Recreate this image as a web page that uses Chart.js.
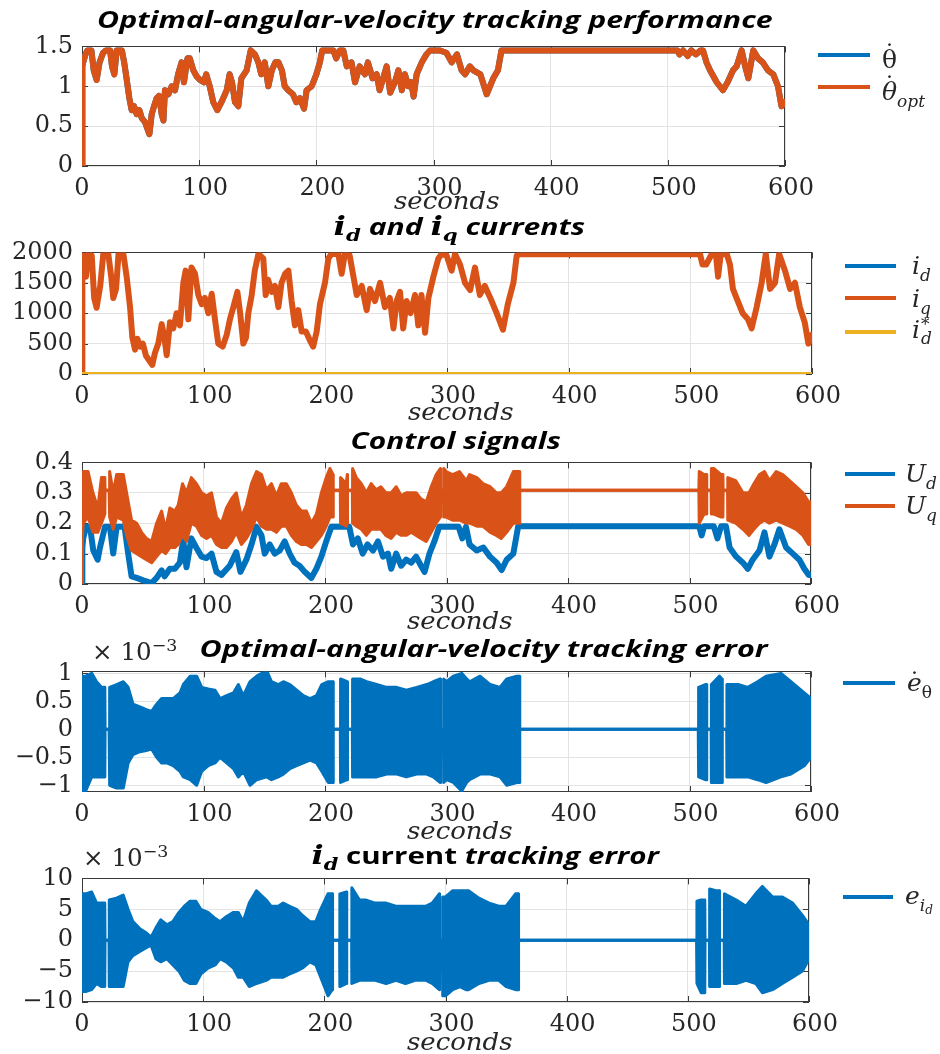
<!DOCTYPE html>
<html><head><meta charset="utf-8">
<script src="https://cdn.jsdelivr.net/npm/chart.js@4.4.1/dist/chart.umd.min.js"></script>
<style>
html,body{margin:0;padding:0;background:#fff;}
body{width:940px;height:1054px;position:relative;overflow:hidden;}
canvas{position:absolute;left:0;}
.t{position:absolute;white-space:nowrap;line-height:1;color:#000;}
.title{font-family:'Open Sans';font-weight:700;font-style:italic;font-size:24px;}
.title .mi{font-family:'DejaVu Serif';font-weight:700;font-style:italic;font-size:26px;}
.title .ms{font-family:'DejaVu Serif';font-weight:700;font-style:italic;font-size:17px;vertical-align:-6px;}
.sec{font-family:'DejaVu Serif';font-style:italic;font-size:24px;color:#262626;}
.leg{font-family:'DejaVu Serif';font-size:25px;color:#262626;}
.leg sub{font-size:17px;vertical-align:-7px;}
.leg sub sub{font-size:12px;vertical-align:-3px;}
.exp{font-family:'DejaVu Serif';font-size:24px;color:#262626;}
.exp sup{font-size:17px;vertical-align:9px;}
.acc{position:relative;display:inline-block;}
.acc .dt{position:absolute;left:0;right:0;text-align:center;font-style:normal;}
.sw{position:absolute;height:4px;}
</style></head><body>
<script>
// ---------------- data ----------------
const xTicks = [0, 100, 200, 300, 400, 500, 600];
const p1YTicks = [0, 0.5, 1, 1.5];
const p2YTicks = [0, 500, 1000, 1500, 2000];
const p3YTicks = [0, 0.1, 0.2, 0.3, 0.4];
const p4YTicks = [-1, -0.5, 0, 0.5, 1];
const p5YTicks = [-10, -5, 0, 5, 10];

// optimal angular velocity [t, value]; the actual angular velocity coincides with it
const thetaOpt = [[0,0],[0.3,1.25],[1,1.3],[3,1.4],[4.5,1.45],[8,1.45],[10,1.2],[12.5,1.08],[15,1.3],[18,1.42],[20.5,1.45],[24,1.45],[25.6,1.25],[27.6,1.15],[29.6,1.45],[34,1.45],[36,1.3],[38,1.1],[40.4,0.85],[42.4,0.7],[44.4,0.75],[46.7,0.65],[49,0.7],[51,0.6],[53.8,0.55],[57.5,0.4],[59.5,0.65],[61.5,0.75],[63.7,0.85],[65.7,0.88],[68,0.65],[69.5,0.57],[70.8,0.95],[73.7,0.9],[76.5,1.0],[79.4,0.95],[82,1.15],[85,1.3],[87,1.05],[90,1.35],[92,1.35],[95,1.2],[98,1.12],[100.7,1.08],[104,1.05],[106,1.15],[109,1.0],[112,0.8],[115.5,0.7],[119,0.8],[123.5,0.95],[126,1.15],[128,1.05],[130.6,0.8],[133.4,0.75],[136,1.1],[140.5,1.2],[144,1.45],[147.6,1.4],[150.5,1.3],[153,1.15],[156,1.3],[159,1.0],[162,1.2],[165,1.3],[167.7,1.3],[170.6,1.2],[173,1.0],[176,0.95],[180,0.9],[183,0.8],[186,0.85],[189.5,0.72],[191.7,0.95],[196,1.0],[200,1.15],[203,1.3],[205,1.45],[214.5,1.45],[217,1.35],[220,1.45],[223,1.45],[226,1.25],[230,1.3],[233,1.05],[237,1.25],[241.5,1.15],[244,1.3],[248,1.1],[251.5,1.15],[254,0.95],[257,1.1],[260,1.25],[263,0.92],[267,1.05],[270,1.2],[273,0.95],[275.6,1.15],[278.5,1.0],[281,1.05],[283,0.87],[285.6,1.15],[290,1.3],[294,1.4],[297,1.45],[305,1.45],[311,1.42],[315.5,1.3],[320,1.4],[324,1.2],[327,1.15],[331,1.25],[334,1.2],[340,1.15],[345.4,0.9],[351,1.1],[355,1.2],[358,1.45],[508,1.45],[510,1.4],[513,1.45],[517,1.38],[520,1.45],[524,1.4],[528,1.45],[530,1.45],[533,1.3],[536,1.2],[541.7,1.05],[547,0.95],[551,1.05],[555.7,1.2],[558.7,1.25],[563,1.45],[566,1.25],[568.7,1.1],[572.9,1.45],[577,1.35],[581,1.3],[585.5,1.2],[590,1.15],[594,1.0],[597,0.75],[600,0.8]];
const thetaDot = thetaOpt;

// q-axis current [t, value]
const iq = [[0,0],[0.3,1900],[1,1950],[3.3,1600],[5,1975],[8,1950],[10,1250],[12,1090],[15,1450],[17.5,1975],[21.6,1975],[24,1600],[25.7,1250],[28,1400],[30,1975],[34,1975],[36.7,1600],[39.5,1100],[41.4,600],[43.6,400],[45.5,580],[47.7,450],[50,500],[52.6,300],[56,200],[57.8,150],[60,350],[62.7,500],[65.5,820],[67.7,600],[69.6,310],[72.3,850],[75,750],[77.8,1000],[80.5,800],[83.3,1500],[85.2,1700],[87.4,900],[90,1750],[92.9,1650],[95.6,1300],[98.4,1150],[101,1250],[103.8,1000],[106.6,1320],[109.3,900],[112,500],[115.6,450],[119,650],[121.6,900],[124.4,1100],[127.7,1350],[130,1000],[132.6,500],[134.8,600],[136.7,1000],[139.5,1300],[142,1700],[145,1975],[149,1900],[151,1300],[153,1550],[156,1350],[158.6,1450],[161.4,1100],[164,1500],[167,1650],[169.6,1700],[172.3,1200],[175,800],[177.8,1050],[180.5,700],[184,700],[187.4,550],[190,450],[192.9,700],[195.6,1150],[199.7,1500],[202.5,1900],[205,1975],[210.7,1975],[213.4,1650],[216,1975],[220,1950],[225.8,1300],[229.9,1450],[234,1050],[236.7,1400],[240.8,1200],[245,1500],[249,1100],[253,1250],[256,750],[258.6,1200],[261.4,1350],[264,750],[266.8,1200],[270,1000],[273.7,1300],[276.4,800],[279,1300],[282,680],[284.7,1250],[288.8,1600],[292.9,1900],[295.6,1975],[299.7,1950],[303.8,1700],[306.6,1975],[310.7,1800],[314.8,1500],[319,1380],[323,1750],[327,1300],[331,1450],[336.7,1200],[340.8,1000],[346,730],[350,1150],[354.6,1500],[357.3,1950],[360,1970],[508,1970],[510,1800],[513,1800],[517.5,1970],[521,1970],[522.8,1600],[525,1970],[530,1970],[532.6,1800],[535,1400],[539,1200],[543,1000],[547.4,900],[550.4,750],[554.5,1100],[558.6,1500],[562,1975],[565.5,1400],[569.6,1500],[573,1975],[577.8,1700],[582,1400],[586,1500],[590,1100],[594,850],[597,500],[600,650]];
const idCur = [[0,0],[600,0]];
const idRef = [[0,0],[600,0]];

// d-axis control voltage [t, value]
const ud = [[0,0],[0.3,0.12],[1,0.15],[3.3,0.188],[6.6,0.188],[9.3,0.11],[12.9,0.08],[14.8,0.12],[18.9,0.188],[23,0.188],[25.7,0.1],[28.5,0.188],[35,0.188],[38,0.1],[40.8,0.025],[45,0.02],[50.4,0.012],[57.3,0.003],[61.4,0.02],[65.5,0.045],[68,0.025],[72.3,0.05],[76.4,0.05],[80.5,0.07],[83.3,0.145],[86,0.055],[90,0.15],[94,0.12],[98.4,0.09],[102.5,0.085],[106.6,0.1],[110.7,0.04],[114.8,0.03],[121.6,0.06],[127,0.105],[130.4,0.04],[135.3,0.08],[139.5,0.13],[143.6,0.188],[147.7,0.16],[150.4,0.1],[154.5,0.13],[158.6,0.1],[162.7,0.11],[166.8,0.14],[170.9,0.1],[175,0.07],[179,0.06],[183.3,0.04],[188.8,0.02],[192.9,0.05],[197,0.09],[201,0.14],[205.2,0.188],[220,0.188],[223,0.13],[227,0.15],[231,0.1],[235,0.13],[239.5,0.11],[243.6,0.14],[247.7,0.09],[251.8,0.1],[254.5,0.05],[258.6,0.1],[262.7,0.06],[266.8,0.08],[271,0.07],[275,0.09],[279,0.06],[282,0.04],[286,0.1],[290,0.14],[294,0.188],[310,0.188],[313,0.15],[316,0.188],[319,0.13],[324.8,0.11],[330.3,0.12],[335.8,0.09],[341.3,0.07],[345.4,0.046],[349.5,0.08],[355,0.1],[359,0.19],[508,0.19],[510,0.16],[512,0.19],[520,0.19],[523,0.15],[526,0.19],[530,0.19],[533,0.12],[538.4,0.09],[543.9,0.07],[548,0.05],[552,0.08],[557.6,0.11],[561.7,0.17],[565.8,0.09],[569.9,0.13],[574,0.18],[579.5,0.12],[585,0.1],[590.4,0.08],[594.5,0.05],[598,0.03],[600,0.03]];

// q-axis control voltage oscillation band [t, upper, lower]
const uqBand = [[0,0,0],[0.3,0.3,0.15],[1,0.37,0.2],[5,0.37,0.22],[9,0.3,0.17],[13,0.25,0.17],[16,0.35,0.2],[18.8,0.35,0.23],[19,0.308,0.308],[22.3,0.308,0.308],[22.5,0.37,0.22],[23,0.37,0.22],[25.7,0.3,0.18],[28.5,0.36,0.22],[34,0.36,0.21],[36.7,0.3,0.16],[40.8,0.21,0.11],[45,0.2,0.1],[49,0.17,0.09],[53,0.15,0.08],[57.3,0.14,0.07],[61.4,0.2,0.09],[65.5,0.24,0.11],[68.8,0.18,0.1],[72.3,0.25,0.12],[76.4,0.24,0.12],[79.2,0.26,0.13],[82.7,0.33,0.16],[86,0.3,0.14],[90,0.35,0.2],[94.2,0.33,0.19],[98.4,0.3,0.16],[102.5,0.29,0.15],[106.6,0.3,0.16],[110.7,0.22,0.13],[114.8,0.2,0.12],[118.9,0.25,0.12],[123,0.28,0.14],[127,0.3,0.17],[131.2,0.22,0.13],[135.3,0.26,0.15],[139.5,0.33,0.18],[143.6,0.37,0.22],[147.7,0.36,0.19],[151.8,0.31,0.18],[155.9,0.33,0.18],[160,0.29,0.17],[164,0.33,0.19],[168.2,0.33,0.19],[172.3,0.3,0.16],[176.4,0.26,0.14],[180.5,0.24,0.13],[184.7,0.24,0.13],[188.8,0.2,0.12],[192.9,0.23,0.14],[197,0.3,0.16],[201,0.35,0.19],[204,0.38,0.22],[206.6,0.36,0.22],[206.8,0.308,0.308],[212.6,0.308,0.308],[212.8,0.35,0.2],[217.5,0.33,0.19],[218.3,0.36,0.2],[218.5,0.308,0.308],[222.5,0.308,0.308],[222.7,0.38,0.2],[225.8,0.35,0.19],[229.9,0.33,0.18],[234,0.3,0.16],[238,0.33,0.18],[242,0.31,0.18],[246,0.32,0.18],[250,0.3,0.16],[254.5,0.3,0.15],[258.6,0.32,0.17],[262.7,0.29,0.16],[266.8,0.3,0.16],[271,0.3,0.17],[275,0.3,0.16],[279,0.28,0.15],[283.3,0.27,0.14],[287.4,0.32,0.17],[291.5,0.36,0.2],[294.9,0.38,0.22],[295.1,0.308,0.308],[297.5,0.308,0.308],[297.7,0.38,0.22],[299.7,0.37,0.22],[305,0.36,0.21],[310.7,0.37,0.21],[316.2,0.34,0.2],[319,0.36,0.2],[325,0.35,0.19],[330,0.33,0.19],[336,0.32,0.17],[341,0.3,0.16],[345,0.3,0.15],[349.5,0.32,0.17],[355,0.37,0.2],[360,0.37,0.2],[360.3,0.308,0.308],[507.7,0.308,0.308],[508,0.37,0.2],[512,0.36,0.23],[514,0.36,0.23],[514.2,0.308,0.308],[517.8,0.308,0.308],[518,0.38,0.23],[520,0.38,0.23],[526,0.36,0.22],[527.5,0.36,0.22],[527.7,0.308,0.308],[531.3,0.308,0.308],[531.5,0.35,0.21],[538,0.34,0.2],[544,0.3,0.18],[549,0.3,0.16],[553,0.33,0.18],[557.6,0.36,0.2],[561.7,0.37,0.21],[565.8,0.34,0.2],[571.3,0.37,0.21],[576.8,0.36,0.2],[582.3,0.34,0.19],[587.8,0.32,0.18],[593.3,0.3,0.16],[598,0.27,0.13],[600,0.27,0.13]];

// angular-velocity tracking error band (x 1e-3) [t, upper, lower]
const eThetaBand = [[0,0.95,-1.1],[3,0.95,-1.1],[8,1.0,-0.85],[12,0.85,-0.85],[16,0.75,-0.85],[18.8,0.75,-0.85],[19,0,0],[22.3,0,0],[22.5,0.75,-1.0],[23,0.75,-1.0],[28.5,0.8,-1.05],[34,0.85,-1.05],[38,0.75,-0.6],[42,0.45,-0.45],[47.7,0.4,-0.4],[53,0.35,-0.38],[57.3,0.32,-0.35],[61.4,0.45,-0.5],[65.5,0.55,-0.6],[69.7,0.55,-0.6],[75,0.55,-0.65],[80.6,0.65,-0.75],[83.4,0.8,-0.85],[89,0.95,-0.9],[94.4,0.95,-1.0],[98.5,0.75,-0.75],[104,0.72,-0.65],[109.5,0.7,-0.6],[113.6,0.55,-0.5],[119,0.6,-0.6],[124.6,0.65,-0.7],[128.7,0.8,-0.85],[132.8,0.6,-0.75],[138.3,0.85,-1.0],[143.8,0.95,-0.9],[152,1.05,-0.85],[156,0.85,-0.9],[161.6,0.8,-0.85],[165.7,0.85,-0.8],[171.2,0.8,-0.7],[176.7,0.7,-0.65],[182.2,0.6,-0.6],[187.7,0.55,-0.55],[193,0.6,-0.6],[197.3,0.8,-0.75],[202.7,0.85,-0.95],[206.6,0.85,-0.95],[206.8,0,0],[212.6,0,0],[212.8,0.9,-0.95],[218.3,0.85,-0.9],[218.5,0,0],[222.5,0,0],[222.7,0.9,-0.85],[228.8,0.9,-0.85],[234.3,0.85,-0.85],[242.5,0.8,-0.85],[250.8,0.75,-0.8],[259,0.75,-0.8],[267,0.7,-0.85],[275.4,0.75,-0.8],[283.7,0.8,-0.8],[289,0.85,-0.85],[294.9,0.9,-0.95],[295.1,0,0],[297.5,0,0],[297.7,0.9,-0.95],[300,0.85,-0.9],[305.6,0.95,-0.95],[312.5,1.0,-1.1],[316.6,0.9,-0.95],[319,0.85,-0.9],[327.6,0.95,-0.8],[336,0.8,-0.8],[344,0.75,-0.85],[349.6,0.9,-1.0],[357.8,0.95,-0.95],[360,0.95,-0.95],[360.3,0,0],[507.2,0,0],[507.5,0.75,-0.85],[513,0.8,-0.9],[514,0.8,-0.9],[514.2,0,0],[517.8,0,0],[518,0.8,-0.95],[524.7,0.95,-0.95],[526.8,0.9,-0.95],[527,0,0],[530.6,0,0],[530.8,0.8,-0.85],[540,0.8,-0.85],[548,0.75,-0.85],[556,0.85,-0.9],[563,0.95,-0.95],[575.3,1.0,-0.85],[583.5,0.85,-0.8],[594.5,0.65,-0.65],[600,0.55,-0.5]];

// d-axis current tracking error band (x 1e-3) [t, upper, lower]
const eIdBand = [[0,7.5,-8.3],[3,7.5,-8.3],[8,7.8,-8],[12,6,-7],[16,6,-7.5],[18.8,6,-7.5],[19,0,0],[22.3,0,0],[22.5,6.5,-7.5],[28.5,6.8,-7.5],[34,7.3,-7.5],[38,5,-3.5],[42,3,-2.5],[48,1.8,-1.8],[53,1.2,-1.2],[57,0.5,-0.8],[61,2,-3],[65,3.3,-3.5],[70,2.5,-3],[75,3,-4],[80,4.5,-5],[84.5,5.5,-6.5],[89,6.3,-7],[94,6.3,-7],[98,5,-5.5],[104,4.5,-4.5],[110,3.5,-4],[114,3,-3],[119,3.8,-3.5],[125,4.5,-4.5],[129,4.5,-6],[133,3,-6],[138,6,-7.5],[144,8,-7],[152,6.5,-6.5],[156,5.5,-6],[162,5.5,-6],[166,6,-6],[171,5.5,-5.5],[177,5,-5],[182,4,-4.5],[188,3,-3.5],[193,3,-4],[197,5,-6],[203,7.5,-9],[206.6,7.5,-8],[206.8,0,0],[212.6,0,0],[212.8,7.5,-7.5],[218.3,7.8,-7],[218.5,0,0],[222.5,0,0],[222.7,8.5,-7],[229,6.5,-6.5],[234,6.5,-6.5],[242,6,-6.5],[251,6,-7],[259,5.5,-6.5],[267,5.5,-7],[275,5.5,-6.5],[284,5.5,-6.5],[289,6,-7],[294.9,7.5,-8],[295.1,0,0],[297.5,0,0],[297.7,7,-9],[300,7,-9],[306,8,-8],[312,8,-7.5],[317,8,-8],[319,8,-8],[327.6,6.8,-7],[336,6,-6.5],[344,5.5,-6.5],[350,5.5,-7.5],[357.8,7.5,-8],[360,7.5,-8],[360.3,0,0],[507.2,0,0],[507.5,6.3,-7],[511,6.5,-8.5],[514,6.5,-8.5],[514.2,0,0],[517.8,0,0],[518,8.3,-7.5],[523,8,-7.5],[526,8,-7.5],[526.2,0,0],[530,0,0],[530.2,7.5,-7],[540,6.5,-7],[548,5.5,-6.5],[556,7.5,-7],[561.5,8.7,-8.5],[570,7,-8],[578,7,-7],[586.5,6,-6],[594.6,4,-5],[600,2.5,-3]];

// ---------------- helpers ----------------
const BLUE = '#0072BD', ORANGE = '#D95319', YELLOW = '#EDB120';
const pts = (arr, k = 1) => arr.map(r => ({x: r[0], y: r[k]}));
const fmt = v => (v < 0 ? '\u2212' : '') + String(Math.abs(v));
const fmtX = v => (v === 0 ? '0' : '\u2002' + String(v));

const boxPlugin = {
  id: 'matlabBox',
  beforeDatasetsDraw(chart) {
    const {ctx, chartArea: a, scales: {x, y}} = chart;
    ctx.save();
    ctx.strokeStyle = '#3a3a3a';
    ctx.lineWidth = 1;
    ctx.beginPath();
    x.ticks.forEach(t => {
      const px = Math.round(x.getPixelForValue(t.value)) + 0.5;
      ctx.moveTo(px, a.bottom); ctx.lineTo(px, a.bottom - 6);
      ctx.moveTo(px, a.top); ctx.lineTo(px, a.top + 6);
    });
    y.ticks.forEach(t => {
      const py = Math.round(y.getPixelForValue(t.value)) + 0.5;
      ctx.moveTo(a.left, py); ctx.lineTo(a.left + 6, py);
      ctx.moveTo(a.right, py); ctx.lineTo(a.right - 6, py);
    });
    ctx.stroke();
    ctx.strokeRect(Math.round(a.left) + 0.5, Math.round(a.top) + 0.5, Math.round(a.right - a.left) - 1, Math.round(a.bottom - a.top) - 1);
    ctx.restore();
  }
};

function makePanel(geom, yMin, yMax, yTicks, datasets) {
  const {left, right, top, bottom} = geom;
  const padTop = 18, axisH = 46;
  const H = bottom - top + padTop + axisH;
  const c = document.createElement('canvas');
  c.width = 940; c.height = H;
  c.style.width = '940px'; c.style.height = H + 'px';
  c.style.top = (top - padTop) + 'px';
  document.body.appendChild(c);
  const tickFont = {family: 'DejaVu Serif', size: 24};
  new Chart(c, {
    type: 'line',
    data: {datasets},
    options: {
      responsive: false, animation: false, events: [],
      layout: {padding: {top: padTop, right: 940 - right, left: 0, bottom: 0}},
      plugins: {legend: {display: false}, tooltip: {enabled: false}, title: {display: false}},
      elements: {point: {radius: 0}, line: {tension: 0, borderJoinStyle: 'round', borderCapStyle: 'round'}},
      scales: {
        x: {
          type: 'linear', min: 0, max: 600,
          afterFit: s => { s.height = axisH; },
          afterBuildTicks: s => { s.ticks = xTicks.map(v => ({value: v})); },
          grid: {color: '#e3e3e3', drawTicks: false},
          border: {display: false},
          ticks: {font: tickFont, color: '#262626', padding: 8, maxRotation: 0, autoSkip: false, callback: v => fmtX(v)}
        },
        y: {
          type: 'linear', min: yMin, max: yMax,
          afterFit: s => { s.width = left; },
          afterBuildTicks: s => { s.ticks = yTicks.map(v => ({value: v})); },
          grid: {color: '#e3e3e3', drawTicks: false},
          border: {display: false},
          ticks: {font: tickFont, color: '#262626', padding: 9, autoSkip: false, callback: v => fmt(v)}
        }
      }
    },
    plugins: [boxPlugin]
  });
}

function lineDs(data, color, w) {
  return {data, borderColor: color, backgroundColor: color, borderWidth: w, fill: false};
}
function bandDs(band, color) {
  return [
    {data: pts(band, 1), borderColor: color, backgroundColor: color, borderWidth: 3, fill: '+1'},
    {data: pts(band, 2), borderColor: color, backgroundColor: color, borderWidth: 3, fill: false}
  ];
}

// ---------------- panels ----------------
makePanel({left: 82, right: 785, top: 41, bottom: 166}, 0, 1.5, p1YTicks, [
  lineDs(pts(thetaOpt), ORANGE, 6),
  lineDs(pts(thetaDot), BLUE, 6)
]);
makePanel({left: 82, right: 812, top: 247, bottom: 374}, 0, 2000, p2YTicks, [
  lineDs(pts(idRef), YELLOW, 4),
  lineDs(pts(idCur), BLUE, 4),
  lineDs(pts(iq), ORANGE, 6)
]);
makePanel({left: 82, right: 811, top: 457, bottom: 584}, 0, 0.4, p3YTicks, [
  ...bandDs(uqBand, ORANGE),
  lineDs(pts(ud), BLUE, 6)
]);
makePanel({left: 82, right: 811, top: 666, bottom: 792}, -1.12, 1.035, p4YTicks, bandDs(eThetaBand, BLUE));
makePanel({left: 82, right: 809, top: 873, bottom: 1002}, -10, 10, p5YTicks, bandDs(eIdBand, BLUE));

// ---------------- text ----------------
function addText(html, cls, x, cy, w, anchor) {
  const d = document.createElement('div');
  d.className = 't ' + cls;
  d.innerHTML = html;
  document.body.appendChild(d);
  const ow = d.offsetWidth, oh = d.offsetHeight;
  const s = w ? w / ow : 1;
  d.style.top = (cy - oh / 2) + 'px';
  if (anchor === 'left') {
    d.style.left = x + 'px';
    d.style.transformOrigin = '0 50%';
  } else {
    d.style.left = (x - ow / 2) + 'px';
    d.style.transformOrigin = '50% 50%';
  }
  d.style.transform = 'scaleX(' + s + ')';
}
function swatch(x1, x2, y, color) {
  const d = document.createElement('div');
  d.className = 'sw';
  d.style.left = x1 + 'px'; d.style.width = (x2 - x1) + 'px';
  d.style.top = (y - 2) + 'px'; d.style.background = color;
  document.body.appendChild(d);
}
const dotted = (ch, topEm) => '<span class="acc">' + ch + '<span class="dt" style="top:' + topEm + 'em">\u02d9</span></span>';

// titles
addText('Optimal-angular-velocity tracking performance', 'title', 435, 19, 676);
addText('<span class="mi">i</span><span class="ms">d</span> and <span class="mi">i</span><span class="ms">q</span> currents', 'title', 459, 228, 252);
addText('Control signals', 'title', 455, 440, 210);
addText('Optimal-angular-velocity tracking error', 'title', 483, 648, 568);
addText('<span class="mi">i</span><span class="ms">d</span> <span style="font-style:normal">current</span> tracking error', 'title', 485, 857, 348);

// x-axis labels
addText('seconds', 'sec', 447, 201, 106);
addText('seconds', 'sec', 461, 412, 106);
addText('seconds', 'sec', 460, 621, 106);
addText('seconds', 'sec', 460, 831, 106);
addText('seconds', 'sec', 460, 1042, 106);

// exponent labels
addText('\u00d7 10<sup>\u22123</sup>', 'exp', 134, 650, 85);
addText('\u00d7 10<sup>\u22123</sup>', 'exp', 125, 856, 85);

// legends
swatch(818, 870, 55, BLUE);   addText(dotted('\u03b8', -0.22), 'leg', 882, 59, 0, 'left');
swatch(818, 870, 87, ORANGE); addText('<i>' + dotted('\u03b8', -0.22) + '</i><sub><i>opt</i></sub>', 'leg', 882, 94, 0, 'left');

swatch(845, 896, 266, BLUE);   addText('<i>i</i><sub><i>d</i></sub>', 'leg', 912, 268, 0, 'left');
swatch(845, 896, 298, ORANGE); addText('<i>i</i><sub><i>q</i></sub>', 'leg', 912, 301, 0, 'left');
swatch(845, 896, 332, YELLOW); addText('<i>i</i><span style="display:inline-block;vertical-align:middle;line-height:0.8;font-size:17px;text-align:left;margin-left:1px"><i>*</i><br><i>d</i></span>', 'leg', 912, 331, 0, 'left');

swatch(845, 895, 474, BLUE);   addText('<i>U</i><sub><i>d</i></sub>', 'leg', 905, 476, 0, 'left');
swatch(845, 895, 506, ORANGE); addText('<i>U</i><sub><i>q</i></sub>', 'leg', 905, 508, 0, 'left');

swatch(843, 895, 683, BLUE); addText('<i>' + dotted('e', -0.04) + '</i><sub>\u03b8</sub>', 'leg', 907, 685, 0, 'left');
swatch(843, 893, 897, BLUE); addText('<i>e</i><sub><i>i<sub>d</sub></i></sub>', 'leg', 905, 899, 0, 'left');
</script>
</body></html>
